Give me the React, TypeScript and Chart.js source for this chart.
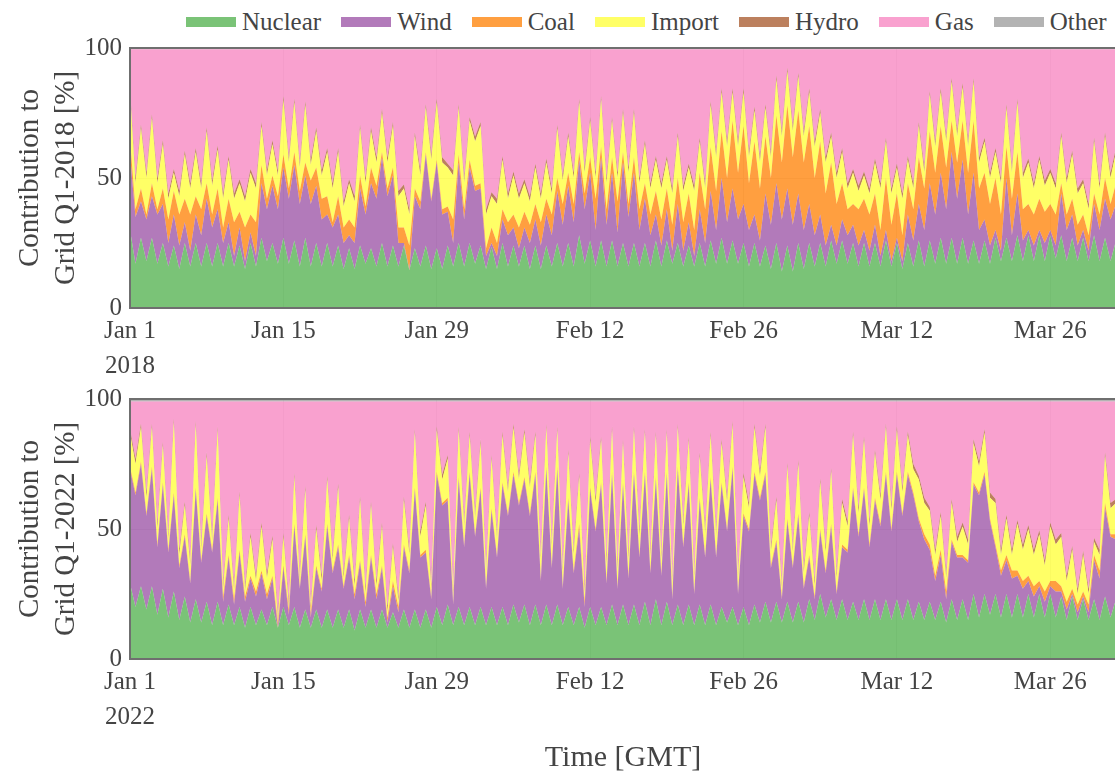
import React, { useEffect, useRef } from "react";
import { Chart, registerables } from "chart.js";

Chart.register(...registerables);

const FONT = "'Liberation Serif', 'Times New Roman', Times, serif";
const TEXT = "#444";

const seriesNames = ["Nuclear", "Wind", "Coal", "Import", "Hydro", "Gas", "Other"];
const seriesColors = [
  "rgba(77,175,74,0.75)",
  "rgba(152,78,163,0.75)",
  "rgba(255,127,0,0.75)",
  "rgba(255,255,51,0.75)",
  "rgba(166,86,40,0.75)",
  "rgba(247,129,191,0.75)",
  "rgba(153,153,153,0.75)",
];

// x axis: days since Jan 1 00:00 GMT, one sample every half day
const tickDays = [0, 14, 28, 42, 56, 70, 84];
const tickLabels = ["Jan 1", "Jan 15", "Jan 29", "Feb 12", "Feb 26", "Mar 12", "Mar 26"];
const sampleStep = 0.5;
const firstDay = 0;
const lastDay = 90;

// ---- Q1 2018, share of grid supply [%] ----
const nuclear2018 = [
  30, 17, 27, 18, 27, 17, 25, 16, 24, 15, 25, 16, 25, 16, 25, 16, 25, 16, 25, 16,
  24, 15, 25, 16, 27, 18, 25, 17, 27, 17, 26, 16, 27, 16, 25, 16, 25, 16, 24, 15,
  23, 15, 24, 17, 23, 16, 25, 16, 24, 16, 24, 14.5, 23, 16, 24, 15, 23, 15, 24, 16,
  25, 16, 25, 17, 24, 15, 23.5, 15, 25, 16, 24, 16, 24, 15, 24, 15, 24, 16, 25, 16,
  25, 16, 28, 17, 26, 16, 26, 16, 26, 16, 25, 16, 25, 16, 25, 16, 26, 16, 26, 17,
  25, 16, 24, 16, 25, 16, 26, 17, 27, 17, 26, 17, 25, 16, 25, 16, 24, 15, 25, 14,
  24, 14, 25, 15, 25, 16, 25, 16, 26, 17, 26, 17, 25, 16, 25, 16, 25, 16, 26, 16,
  25, 15, 25, 16, 26, 16, 26, 17, 27, 17, 27, 17, 27, 17, 26, 17, 26, 17, 27, 18,
  27, 18, 28, 18, 28, 18, 28, 18, 28, 19, 28, 18, 27, 18, 27, 18, 28, 18, 27, 18,
  26,
];
const wind2018 = [
  29, 18, 14, 16, 16, 19, 15, 9, 12, 9, 8, 6, 11, 12, 17, 15, 13, 9, 8, 4,
  7, 3, 4, 4, 21, 20, 22, 21, 27, 25, 29, 24, 24, 24, 22, 18, 11, 15, 12, 10,
  5, 10, 22, 19, 25, 26, 33, 27, 27, 9, 1, 0, 20, 22, 35, 26, 33, 21, 13, 9,
  31, 18, 29, 28, 22, 5, 1.5, 5, 9, 12, 7, 7, 7, 10, 10, 9, 12, 12, 20, 16,
  22, 17, 29, 21, 26, 14, 32, 16, 26, 13, 31, 19, 27, 14, 17, 12, 10, 8, 12, 5,
  15, 6, 9, 4, 13, 9, 19, 13, 23, 16, 20, 17, 15, 14, 11, 10, 20, 17, 23, 20,
  22, 18, 19, 15, 15, 12, 11, 8, 6, 7, 8, 11, 7, 8, 5, 6, 7, 4, 4, 2,
  2, 3, 11, 10, 14, 14, 22, 19, 25, 21, 33, 25, 30, 19, 26, 13, 8, 7, 3, 4,
  23, 10, 16, 8, 2, 6, 2, 7, 2, 5, 16, 12, 9, 6, 3, 4, 12, 12, 15, 16,
  14,
];
const coal2018 = [
  6, 3, 5, 2, 5, 2, 6, 9, 9, 12, 9, 14, 7, 10, 6, 5, 8, 6, 9, 13,
  6, 13, 7, 13, 7, 4, 4, 5, 5, 4, 5, 5, 5, 9, 7, 8, 7, 2, 7, 6,
  6, 6, 5, 3, 6, 5, 2, 3, 3, 6, 6, 9.5, 3, 3, 1, 1, 1, 2, 2, 9,
  3, 4, 3, 2, 2, 3, 6, 5, 4, 5, 5, 8, 6, 7, 6, 9, 6, 8, 5, 8,
  5, 7, 3, 6, 6, 12, 4, 6, 6, 12, 4, 5, 6, 8, 6, 8, 9, 10, 8, 10,
  10, 11, 11, 10, 14, 13, 17, 15, 18, 17, 26, 18, 30, 18, 28, 20, 22, 18, 26, 22,
  32, 26, 32, 26, 30, 22, 28, 20, 24, 16, 14, 10, 8, 14, 12, 14, 12, 10, 20, 14,
  17, 10, 12, 12, 18, 16, 20, 16, 18, 16, 12, 14, 15, 16, 20, 16, 18, 16, 20, 14,
  12, 14, 16, 12, 10, 12, 12, 12, 10, 12, 4, 6, 6, 8, 6, 6, 4, 6, 8, 6,
  8,
];
const import2018 = [
  18, 10, 23, 14, 25, 10, 17, 8, 7, 7, 17, 10, 17, 8, 20, 11, 15, 11, 15, 9,
  11, 10, 16, 13, 15, 9, 12, 8, 21, 10, 19, 9, 22, 6, 14, 9, 17, 13, 17, 8,
  14, 10, 18, 9, 14, 9, 15, 10, 16, 12, 15, 12, 20, 10, 17, 15, 22, 18, 15, 17,
  18, 10, 15, 17, 22, 13, 12, 15, 19, 9, 15, 11, 11, 9, 14, 9, 14, 8, 19, 9,
  14, 10, 19, 8, 14, 8, 18, 10, 14, 9, 15, 12, 17, 10, 15, 10, 12, 12, 11, 12,
  16, 12, 10, 15, 12, 8, 16, 13, 15, 12, 11, 10, 13, 10, 12, 10, 11, 8, 14, 10,
  13, 10, 13, 10, 13, 12, 11, 12, 10, 10, 12, 8, 12, 7, 9, 8, 12, 16, 14, 12,
  10, 14, 9, 8, 12, 6, 14, 10, 13, 10, 15, 10, 13, 10, 15, 10, 12, 10, 10, 12,
  15, 10, 19, 12, 16, 10, 15, 10, 12, 10, 18, 12, 17, 12, 12, 10, 20, 10, 16, 10,
  12,
];
const hydro2018 = [
  1.5, 2, 1.5, 2, 1.5, 2, 1.5, 2, 1.5, 2, 1.5, 2, 1.5, 2, 1.5, 2, 1.5, 2, 1.5, 2,
  1.5, 2, 1.5, 2, 1.5, 2, 1.5, 2, 1.5, 2, 1.5, 2, 1.5, 2, 1.5, 2, 1.5, 2, 1.5, 2,
  1.5, 2, 1.5, 2, 1.5, 2, 1.5, 2, 1.5, 2, 1.5, 2, 1.5, 2, 1.5, 2, 1.5, 2, 1.5, 2,
  1.5, 2, 1.5, 2, 1.5, 2, 1.5, 2, 1.5, 2, 1.5, 2, 1.5, 2, 1.5, 2, 1.5, 2, 1.5, 2,
  1.5, 2, 1.5, 2, 1.5, 2, 1.5, 2, 1.5, 2, 1.5, 2, 1.5, 2, 1.5, 2, 1.5, 2, 1.5, 2,
  1.5, 2, 1.5, 2, 1.5, 2, 1.5, 2, 1.5, 2, 1.5, 2, 1.5, 2, 1.5, 2, 1.5, 2, 1.5, 2,
  1.5, 2, 1.5, 2, 1.5, 2, 1.5, 2, 1.5, 2, 1.5, 2, 1.5, 2, 1.5, 2, 1.5, 2, 1.5, 2,
  1.5, 2, 1.5, 2, 1.5, 2, 1.5, 2, 1.5, 2, 1.5, 2, 1.5, 2, 1.5, 2, 1.5, 2, 1.5, 2,
  1.5, 2, 1.5, 2, 1.5, 2, 1.5, 2, 1.5, 2, 1.5, 2, 1.5, 2, 1.5, 2, 1.5, 2, 1.5, 2,
  1.5,
];
const gas2018 = [
  15, 49.5, 29, 47.5, 25, 49.5, 35, 55.5, 46, 54.5, 39, 51.5, 38, 51.5, 30, 50.5, 37, 55.5, 41, 55.5,
  50, 56.5, 46, 51.5, 28, 46.5, 35, 46.5, 18, 41.5, 19, 43.5, 20, 42.5, 30, 46.5, 38, 51.5, 38, 58.5,
  50, 56.5, 29, 49.5, 30, 41.5, 23, 41.5, 28, 54.5, 52, 61.5, 32, 46.5, 21, 40.5, 19, 41.5, 44, 46.5,
  21, 49.5, 26, 33.5, 28, 61.5, 55, 57.5, 41, 55.5, 47, 55.5, 50, 56.5, 44, 55.5, 42, 53.5, 29, 48.5,
  32, 47.5, 19, 45.5, 26, 47.5, 18, 49.5, 26, 47.5, 23, 45.5, 23, 49.5, 35, 51.5, 41, 51.5, 41, 53.5,
  32, 52.5, 44, 52.5, 34, 51.5, 20, 39.5, 15, 35.5, 15, 35.5, 15, 39.5, 22, 41.5, 21, 39.5, 10, 31.5,
  7, 29.5, 9, 31.5, 15, 35.5, 23, 41.5, 32, 47.5, 38, 51.5, 46, 52.5, 47, 53.5, 42, 51.5, 34, 53.5,
  44, 55.5, 41, 51.5, 28, 45.5, 16, 35.5, 15, 33.5, 11, 31.5, 13, 35.5, 11, 41.5, 34, 47.5, 38, 49.5,
  21, 45.5, 19, 47.5, 42, 51.5, 41, 50.5, 46, 51.5, 32, 49.5, 39, 53.5, 50, 59.5, 34, 51.5, 32, 47.5,
  38,
];
const other2018 = [
  0.5, 0.5, 0.5, 0.5, 0.5, 0.5, 0.5, 0.5, 0.5, 0.5, 0.5, 0.5, 0.5, 0.5, 0.5, 0.5, 0.5, 0.5, 0.5, 0.5,
  0.5, 0.5, 0.5, 0.5, 0.5, 0.5, 0.5, 0.5, 0.5, 0.5, 0.5, 0.5, 0.5, 0.5, 0.5, 0.5, 0.5, 0.5, 0.5, 0.5,
  0.5, 0.5, 0.5, 0.5, 0.5, 0.5, 0.5, 0.5, 0.5, 0.5, 0.5, 0.5, 0.5, 0.5, 0.5, 0.5, 0.5, 0.5, 0.5, 0.5,
  0.5, 0.5, 0.5, 0.5, 0.5, 0.5, 0.5, 0.5, 0.5, 0.5, 0.5, 0.5, 0.5, 0.5, 0.5, 0.5, 0.5, 0.5, 0.5, 0.5,
  0.5, 0.5, 0.5, 0.5, 0.5, 0.5, 0.5, 0.5, 0.5, 0.5, 0.5, 0.5, 0.5, 0.5, 0.5, 0.5, 0.5, 0.5, 0.5, 0.5,
  0.5, 0.5, 0.5, 0.5, 0.5, 0.5, 0.5, 0.5, 0.5, 0.5, 0.5, 0.5, 0.5, 0.5, 0.5, 0.5, 0.5, 0.5, 0.5, 0.5,
  0.5, 0.5, 0.5, 0.5, 0.5, 0.5, 0.5, 0.5, 0.5, 0.5, 0.5, 0.5, 0.5, 0.5, 0.5, 0.5, 0.5, 0.5, 0.5, 0.5,
  0.5, 0.5, 0.5, 0.5, 0.5, 0.5, 0.5, 0.5, 0.5, 0.5, 0.5, 0.5, 0.5, 0.5, 0.5, 0.5, 0.5, 0.5, 0.5, 0.5,
  0.5, 0.5, 0.5, 0.5, 0.5, 0.5, 0.5, 0.5, 0.5, 0.5, 0.5, 0.5, 0.5, 0.5, 0.5, 0.5, 0.5, 0.5, 0.5, 0.5,
  0.5,
];

// ---- Q1 2022, share of grid supply [%] ----
const nuclear2022 = [
  29, 20, 28, 19, 28, 17, 27, 16, 26, 15, 24, 14, 23, 14, 22, 13, 22, 13, 21, 13,
  20, 12, 20, 13, 19, 13, 20, 12, 20, 13, 20, 12, 19, 12, 19, 12, 19, 12, 19, 12,
  19, 11, 19, 12, 19, 12, 19, 12, 18, 12, 19, 12, 19, 12, 19, 12, 20, 13, 21, 13,
  20, 13, 20, 13, 20, 13, 20, 13, 20, 13, 21, 14, 21, 13, 21, 13, 21, 13, 21, 13,
  20, 13, 20, 12, 20, 13, 20, 13, 21, 13, 21, 13, 21, 13, 22, 13, 23, 13, 22, 13,
  21, 13, 21, 13, 21, 13, 21, 13, 20, 14, 20, 13, 20, 13, 21, 14, 22, 14, 22, 14,
  22, 14, 22, 14, 23, 15, 25, 16, 23, 15, 23, 15, 22, 15, 23, 15, 23, 15, 23, 15,
  23, 15, 23, 15, 22, 15, 22, 15, 22, 14, 23, 15, 23, 15, 25, 16, 25, 17, 25, 16,
  25, 16, 25, 16, 25, 16, 25, 16, 25, 16, 24, 15, 24, 15, 23, 15, 23, 15, 24, 16,
  23,
];
const wind2022 = [
  44, 43, 47, 36, 45, 26, 40, 25, 37, 20, 23, 15, 42, 23, 33, 28, 39, 9, 18, 8,
  21, 10, 11, 11, 14, 10, 11, 0, 15, 4, 31, 15, 28, 4, 16, 14, 32, 21, 24, 15,
  20, 12, 18, 8, 20, 11, 16, 2, 10, 6, 24, 21, 46, 27, 22, 11, 51, 46, 40, 8,
  49, 30, 51, 34, 45, 14, 37, 26, 47, 42, 50, 45, 48, 42, 50, 17, 52, 22, 52, 14,
  41, 20, 30, 8, 45, 36, 47, 16, 50, 14, 46, 18, 50, 26, 49, 20, 46, 19, 49, 10,
  52, 30, 46, 12, 40, 26, 48, 26, 47, 35, 53, 12, 35, 36, 50, 47, 49, 21, 23, 9,
  31, 21, 33, 13, 16, 8, 24, 17, 28, 10, 20, 26, 43, 32, 42, 28, 38, 36, 48, 34,
  48, 40, 48, 48, 31, 31, 20, 15, 18, 9, 22, 24, 16, 22, 42, 47, 46, 36, 18, 16,
  13, 15, 7, 11, 5, 8, 3, 6, 3, 10, 2, 4, 1, 3, 1, 3, 15, 16, 34, 31,
  23,
];
const coal2022 = [
  1, 1, 1, 1, 1, 1, 1, 1, 1, 1, 1, 1, 1, 1, 1, 1, 1, 2, 1, 2,
  1, 2, 1, 2, 1, 2, 1, 2, 1, 2, 1, 1, 1, 2, 1, 1, 1, 1, 1, 1,
  1, 2, 1, 2, 1, 2, 1, 2, 2, 2, 1, 1, 1, 1, 1, 1, 1, 1, 1, 1,
  1, 1, 1, 1, 1, 1, 1, 1, 1, 1, 1, 1, 1, 1, 1, 1, 1, 1, 1, 1,
  1, 1, 2, 2, 1, 1, 1, 1, 1, 1, 1, 1, 1, 1, 1, 1, 1, 1, 1, 1,
  1, 1, 1, 1, 1, 1, 1, 1, 1, 1, 1, 1, 1, 1, 1, 1, 1, 1, 1, 1,
  1, 1, 1, 1, 1, 1, 1, 1, 1, 1, 1, 1, 1, 1, 1, 1, 1, 1, 1, 1,
  1, 1, 1, 1, 1, 2, 2, 2, 2, 3, 1, 1, 1, 1, 1, 1, 1, 1, 1, 2,
  2, 3, 2, 3, 2, 4, 2, 4, 2, 4, 2, 3, 2, 3, 2, 3, 2, 3, 2, 1,
  2,
];
const import2022 = [
  13, 11, 13, 6, 15, 6, 14, 4, 27, 4, 11, 6, 24, 4, 22, 3, 26, 3, 14, 3,
  21, 2, 15, 4, 17, 6, 14, 1, 11, 1, 18, 2, 17, 1, 14, 3, 17, 4, 22, 3,
  14, 3, 23, 3, 19, 3, 15, 2, 13, 2, 17, 6, 21, 7, 17, 3, 16, 9, 15, 3,
  18, 7, 14, 6, 17, 5, 19, 6, 18, 8, 17, 9, 17, 10, 14, 7, 15, 7, 14, 5,
  17, 6, 18, 3, 18, 10, 16, 6, 16, 6, 15, 6, 16, 7, 15, 5, 16, 5, 15, 5,
  15, 7, 16, 5, 16, 8, 16, 7, 15, 10, 16, 5, 14, 8, 17, 8, 17, 5, 15, 3,
  20, 5, 19, 5, 15, 4, 18, 7, 20, 5, 16, 9, 20, 8, 18, 7, 17, 9, 17, 7,
  16, 8, 14, 9, 15, 12, 13, 8, 13, 5, 14, 5, 11, 6, 15, 10, 15, 8, 16, 6,
  14, 6, 18, 12, 18, 12, 18, 10, 21, 14, 19, 8, 15, 4, 14, 4, 5, 6, 18, 10,
  12,
];
const hydro2022 = [
  1.5, 2, 1.5, 2, 1.5, 2, 1.5, 2, 1.5, 2, 1.5, 2, 1.5, 2, 1.5, 2, 1.5, 2, 1.5, 2,
  1.5, 2, 1.5, 2, 1.5, 2, 1.5, 2, 1.5, 2, 1.5, 2, 1.5, 2, 1.5, 2, 1.5, 2, 1.5, 2,
  1.5, 2, 1.5, 2, 1.5, 2, 1.5, 2, 1.5, 2, 1.5, 2, 1.5, 2, 1.5, 2, 1.5, 2, 1.5, 2,
  1.5, 2, 1.5, 2, 1.5, 2, 1.5, 2, 1.5, 2, 1.5, 2, 1.5, 2, 1.5, 2, 1.5, 2, 1.5, 2,
  1.5, 2, 1.5, 2, 1.5, 2, 1.5, 2, 1.5, 2, 1.5, 2, 1.5, 2, 1.5, 2, 1.5, 2, 1.5, 2,
  1.5, 2, 1.5, 2, 1.5, 2, 1.5, 2, 1.5, 2, 1.5, 2, 1.5, 2, 1.5, 2, 1.5, 2, 1.5, 2,
  1.5, 2, 1.5, 2, 1.5, 2, 1.5, 2, 1.5, 2, 1.5, 2, 1.5, 2, 1.5, 2, 1.5, 2, 1.5, 2,
  1.5, 2, 1.5, 2, 1.5, 2, 1.5, 2, 1.5, 2, 1.5, 2, 1.5, 2, 1.5, 2, 1.5, 2, 1.5, 2,
  1.5, 2, 1.5, 2, 1.5, 2, 1.5, 2, 1.5, 2, 1.5, 2, 1.5, 2, 1.5, 2, 1.5, 2, 1.5, 2,
  1.5,
];
const gas2022 = [
  10.5, 22, 8.5, 35, 8.5, 47, 15.5, 51, 6.5, 57, 38.5, 61, 7.5, 55, 19.5, 52, 9.5, 70, 43.5, 71,
  34.5, 71, 50.5, 67, 46.5, 66, 51.5, 82, 50.5, 77, 27.5, 67, 32.5, 78, 47.5, 67, 28.5, 59, 31.5, 66,
  43.5, 69, 36.5, 72, 38.5, 69, 46.5, 79, 54.5, 75, 36.5, 57, 10.5, 50, 38.5, 70, 9.5, 28, 20.5, 72,
  9.5, 46, 11.5, 43, 14.5, 64, 20.5, 51, 11.5, 33, 8.5, 28, 10.5, 31, 11.5, 59, 8.5, 54, 9.5, 64,
  18.5, 57, 27.5, 72, 13.5, 37, 13.5, 61, 9.5, 63, 14.5, 59, 9.5, 50, 10.5, 58, 11.5, 59, 10.5, 68,
  8.5, 46, 13.5, 66, 19.5, 49, 11.5, 50, 14.5, 37, 7.5, 66, 27.5, 39, 8.5, 27, 8.5, 56, 36.5, 70,
  23.5, 56, 22.5, 64, 42.5, 69, 29.5, 56, 25.5, 66, 37.5, 46, 11.5, 41, 13.5, 46, 18.5, 36, 8.5, 40,
  9.5, 33, 11.5, 24, 28.5, 37, 40.5, 57, 42.5, 66, 37.5, 52, 46.5, 53, 14.5, 23, 10.5, 35, 37.5, 57,
  43.5, 57, 45.5, 55, 47.5, 57, 49.5, 61, 46.5, 53, 50.5, 67, 55.5, 72, 57.5, 72, 52.5, 57, 19.5, 39,
  37.5,
];
const other2022 = [
  1, 1, 1, 1, 1, 1, 1, 1, 1, 1, 1, 1, 1, 1, 1, 1, 1, 1, 1, 1,
  1, 1, 1, 1, 1, 1, 1, 1, 1, 1, 1, 1, 1, 1, 1, 1, 1, 1, 1, 1,
  1, 1, 1, 1, 1, 1, 1, 1, 1, 1, 1, 1, 1, 1, 1, 1, 1, 1, 1, 1,
  1, 1, 1, 1, 1, 1, 1, 1, 1, 1, 1, 1, 1, 1, 1, 1, 1, 1, 1, 1,
  1, 1, 1, 1, 1, 1, 1, 1, 1, 1, 1, 1, 1, 1, 1, 1, 1, 1, 1, 1,
  1, 1, 1, 1, 1, 1, 1, 1, 1, 1, 1, 1, 1, 1, 1, 1, 1, 1, 1, 1,
  1, 1, 1, 1, 1, 1, 1, 1, 1, 1, 1, 1, 1, 1, 1, 1, 1, 1, 1, 1,
  1, 1, 1, 1, 1, 1, 1, 1, 1, 1, 1, 1, 1, 1, 1, 1, 1, 1, 1, 1,
  1, 1, 1, 1, 1, 1, 1, 1, 1, 1, 1, 1, 1, 1, 1, 1, 1, 1, 1, 1,
  1,
];

const series2018 = [nuclear2018, wind2018, coal2018, import2018, hydro2018, gas2018, other2018];
const series2022 = [nuclear2022, wind2022, coal2022, import2022, hydro2022, gas2022, other2022];

// grey frame round the plotting area
const plotFrame = {
  id: "plotFrame",
  afterDatasetsDraw(chart: any) {
    const { ctx, chartArea: a } = chart;
    ctx.save();
    ctx.strokeStyle = "#6f6f6f";
    ctx.lineWidth = 2;
    ctx.strokeRect(a.left, a.top, a.right - a.left, a.bottom - a.top);
    ctx.restore();
  },
};

type PanelProps = {
  year: string;
  series: number[][];
  top: number;
  height: number;
  padTop: number;
  xHeight: number;
  xTitle?: string;
};

function Panel({ year, series, top, height, padTop, xHeight, xTitle }: PanelProps) {
  const ref = useRef<HTMLCanvasElement>(null);

  useEffect(() => {
    const datasets = seriesNames.map((name, k) => ({
      label: name,
      data: series[k].map((v, i) => ({ x: firstDay + i * sampleStep, y: v })),
      backgroundColor: seriesColors[k],
      borderColor: seriesColors[k],
      borderWidth: 0,
      pointRadius: 0,
      tension: 0,
      fill: k === 0 ? "origin" : "-1",
    }));

    const chart = new Chart(ref.current as HTMLCanvasElement, {
      type: "line",
      data: { datasets },
      options: {
        responsive: false,
        animation: false,
        events: [],
        layout: { padding: { top: padTop, right: 4, left: 0, bottom: 0 } },
        plugins: {
          legend: { display: false },
          tooltip: { enabled: false },
        },
        scales: {
          x: {
            type: "linear",
            min: firstDay,
            max: lastDay,
            afterBuildTicks: (scale: any) => {
              scale.ticks = tickDays.map((d) => ({ value: d }));
            },
            afterFit: (scale: any) => {
              scale.height = xHeight;
            },
            ticks: {
              autoSkip: false,
              maxRotation: 0,
              padding: 6,
              color: TEXT,
              font: { family: FONT, size: 25, lineHeight: 1.4 },
              callback: (_v: any, idx: number) =>
                idx === 0 ? [tickLabels[0], year] : tickLabels[idx],
            },
            grid: { color: "#ececec", drawTicks: false },
            border: { display: false },
            title: {
              display: !!xTitle,
              text: xTitle || "",
              color: TEXT,
              font: { family: FONT, size: 30, lineHeight: 1 },
              padding: { top: 0, bottom: 1 },
            },
          },
          y: {
            stacked: true,
            min: 0,
            max: 100,
            afterFit: (scale: any) => {
              scale.width = 130;
            },
            ticks: {
              stepSize: 50,
              padding: 8,
              color: TEXT,
              font: { family: FONT, size: 25, lineHeight: 1.2 },
            },
            grid: { color: "#ececec", drawTicks: false },
            border: { display: false },
            title: {
              display: true,
              text: ["Contribution to", `Grid Q1-${year} [%]`],
              color: TEXT,
              font: { family: FONT, size: 29, lineHeight: 1.24 },
              padding: { top: 12, bottom: 0 },
            },
          },
        },
      },
      plugins: [plotFrame],
    } as any);

    return () => chart.destroy();
  }, [year, series, padTop, xHeight, xTitle]);

  return (
    <canvas
      ref={ref}
      width={1120}
      height={height}
      style={{ position: "absolute", left: 0, top, width: 1120, height }}
    />
  );
}

function Legend() {
  return (
    <div
      style={{
        position: "absolute",
        left: 186,
        top: 8,
        height: 28,
        display: "flex",
        alignItems: "center",
        fontFamily: FONT,
        fontSize: 25,
        color: TEXT,
        whiteSpace: "nowrap",
      }}
    >
      {seriesNames.map((name, k) => (
        <div key={name} style={{ display: "flex", alignItems: "center", marginRight: 20 }}>
          <span
            style={{
              display: "inline-block",
              width: 50,
              height: 10,
              background: seriesColors[k],
              marginRight: 6,
            }}
          />
          <span style={{ lineHeight: "28px" }}>{name}</span>
        </div>
      ))}
    </div>
  );
}

export default function App() {
  return (
    <div
      style={{
        position: "fixed",
        left: 0,
        top: 0,
        width: 1115,
        height: 774,
        overflow: "hidden",
        background: "#fff",
      }}
    >
      <Legend />
      <Panel year="2018" series={series2018} top={0} height={390} padTop={48} xHeight={82} />
      <Panel
        year="2022"
        series={series2022}
        top={370}
        height={404}
        padTop={29}
        xHeight={115}
        xTitle="Time [GMT]"
      />
    </div>
  );
}
